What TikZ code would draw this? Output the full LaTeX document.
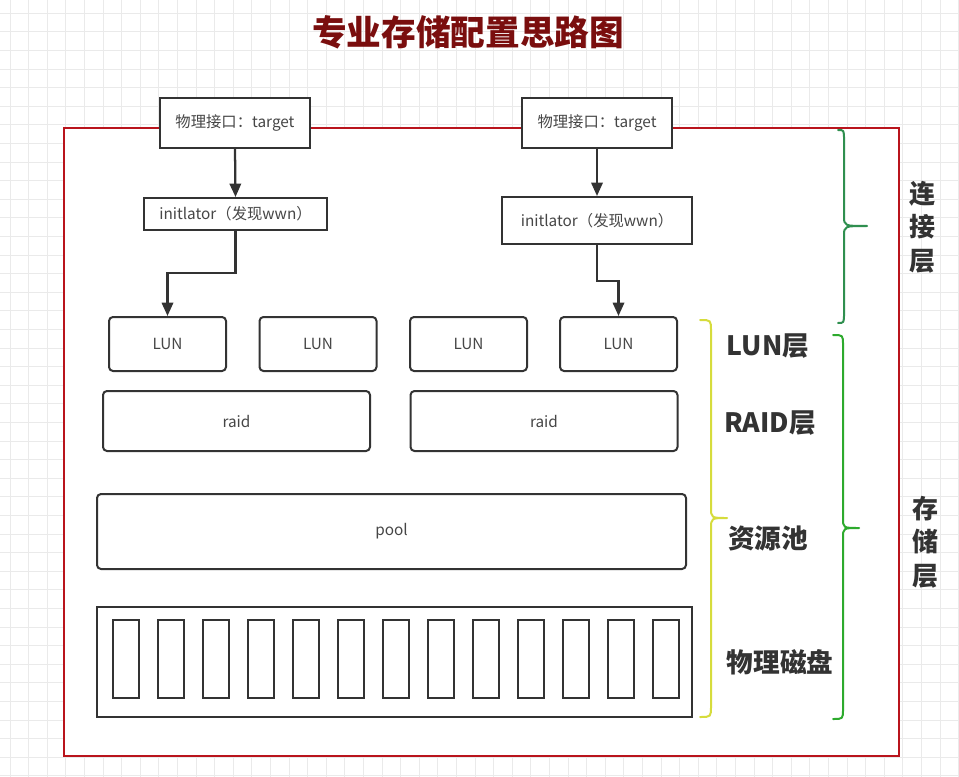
\documentclass[tikz,border=0pt]{standalone}
\usepackage{fontspec}
\setmainfont{Noto Sans CJK SC}
\usetikzlibrary{arrows.meta}
\definecolor{gridc}{RGB}{234,234,234}
\definecolor{framered}{RGB}{185,20,28}
\definecolor{titlered}{RGB}{122,14,14}
\definecolor{boxline}{RGB}{51,51,51}
\definecolor{yelbrace}{RGB}{214,220,60}
\definecolor{greenA}{RGB}{47,143,79}
\definecolor{greenB}{RGB}{45,170,45}
\definecolor{txt}{RGB}{51,51,51}
\definecolor{boxtxt}{RGB}{70,70,70}
\tikzset{
  gridline/.style={draw=gridc, line width=0.75pt},
  plainbox/.style={draw=boxline, line width=1.5pt, fill=white, inner sep=0pt, text=boxtxt, font=\fontsize{11.5pt}{13pt}\selectfont},
  roundbox/.style={plainbox, rounded corners=3pt},
  diskbox/.style={draw=boxline, line width=1.5pt, fill=white, inner sep=0pt, minimum width=19.5pt, minimum height=58.5pt},
  conn/.style={draw=boxline, line width=1.7pt, -{Triangle[width=8.5pt,length=10pt]}},
  layerlabel/.style={text=txt, font=\fontsize{20pt}{24pt}\selectfont\bfseries, inner sep=0pt},
  sidelabel/.style={text=txt, font=\fontsize{19.5pt}{25pt}\selectfont\bfseries, inner sep=0pt, align=center},
  bracestyle/.style={line width=1.5pt, line cap=round, line join=round},
}
\begin{document}
\begin{tikzpicture}[x=0.75pt,y=-0.75pt]
\useasboundingbox (0,0) rectangle (959,777);
\fill[white] (0,0) rectangle (959,777);
% grid
\foreach \gx in {10,28.6,...,959} { \draw[gridline] (\gx,0) -- (\gx,777); }
\foreach \gy in {13.3,31.9,...,777} { \draw[gridline] (0,\gy) -- (959,\gy); }
% title
\node (title) [text=titlered, font=\fontsize{26pt}{30pt}\selectfont\bfseries, inner sep=0pt] at (468,32) {专业存储配置思路图};
% frame
\node (frame) [draw=framered, line width=1.5pt, fill=white, minimum width=626.25pt, minimum height=471pt, inner sep=0pt] at (481.5,442) {};
% target boxes
\node (t1) [plainbox, minimum width=112.5pt, minimum height=37.5pt] at (235,123) {物理接口：target};
\node (t2) [plainbox, minimum width=112.5pt, minimum height=37.5pt] at (597,123) {物理接口：target};
% initiator boxes
\node (i1) [plainbox, minimum width=137.25pt, minimum height=24pt] at (235.5,214) {initlator（发现wwn）};
\node (i2) [plainbox, minimum width=142.5pt, minimum height=35.25pt] at (597,220.5) {initlator（发现wwn）};
% LUNs
\node (l1) [roundbox, minimum width=87.75pt, minimum height=40.5pt] at (167.5,344) {LUN};
\node (l2) [roundbox, minimum width=87.75pt, minimum height=40.5pt] at (318,344) {LUN};
\node (l3) [roundbox, minimum width=87.75pt, minimum height=40.5pt] at (468.5,344) {LUN};
\node (l4) [roundbox, minimum width=87.75pt, minimum height=40.5pt] at (618.5,344) {LUN};
% raid
\node (r1) [roundbox, minimum width=200.25pt, minimum height=45pt] at (236.5,421) {raid};
\node (r2) [roundbox, minimum width=200.25pt, minimum height=45pt] at (544,421) {raid};
% pool
\node (pool) [roundbox, minimum width=441.75pt, minimum height=56.25pt] at (391.5,531.5) {pool};
% disk enclosure
\node (encl) [draw=boxline, line width=1.5pt, fill=white, minimum width=446.25pt, minimum height=82.5pt, inner sep=0pt] at (394.5,662) {};
\foreach \i in {0,...,12} {
  \node (d\i) [diskbox] at ({126+45*\i},659) {};
}
% connectors
\draw[conn] (t1.south) -- (i1.north);
\draw[conn] (t2.south) -- (i2.north);
\draw[conn] (i1.south) -- ++(0,42) -| (l1.north);
\draw[conn] (i2.south) -- ++(0,36) -| (l4.north);
% braces
\draw[bracestyle, draw=yelbrace] (700,320) .. controls (711,320) .. (711,331) -- (711,507) .. controls (711,518) .. (727,518) .. controls (711,518) .. (711,529) -- (711,706) .. controls (711,717) .. (700,717);
\draw[bracestyle, draw=greenA] (838,130) .. controls (844,130) .. (844,140) -- (844,216) .. controls (844,226) .. (867,226) .. controls (844,226) .. (844,236) -- (844,313) .. controls (844,323) .. (838,323);
\draw[bracestyle, draw=greenB] (833,335) .. controls (843,335) .. (843,345) -- (843,518) .. controls (843,528) .. (859,528) .. controls (843,528) .. (843,538) -- (843,709) .. controls (843,719) .. (833,719);
% layer labels
\node (lunL) [layerlabel] at (768,346) {LUN层};
\node (raidL) [layerlabel] at (770,423) {RAID层};
\node (poolL) [layerlabel] at (768,538) {资源池};
\node (diskL) [layerlabel] at (780,662) {物理磁盘};
\node (connL) [sidelabel] at (922,227) {连\\接\\层};
\node (storL) [sidelabel] at (925,542) {存\\储\\层};
\end{tikzpicture}
\end{document}
